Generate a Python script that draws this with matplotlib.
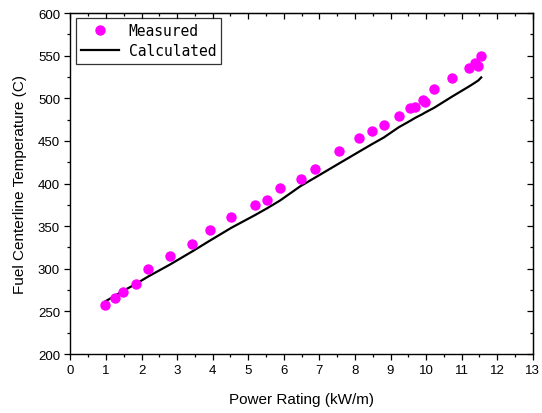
import numpy as np
import matplotlib.pyplot as plt
from matplotlib.ticker import MultipleLocator

plt.rcParams['font.family'] = ['Liberation Sans', 'DejaVu Sans']

# Measured fuel centerline temperatures
power_meas = [0.97, 1.26, 1.48, 1.83, 2.19, 2.80, 3.41, 3.92, 4.52, 5.19,
              5.53, 5.89, 6.47, 6.88, 7.55, 8.10, 8.49, 8.81, 9.23, 9.55,
              9.69, 9.90, 9.96, 10.23, 10.73, 11.21, 11.38, 11.47, 11.55]
temp_meas = [257.5, 265.7, 272.7, 282.0, 299.3, 314.6, 329.4, 345.4, 360.3, 374.8,
             381.0, 394.3, 405.3, 416.6, 437.8, 453.0, 461.2, 468.6, 479.5, 488.6,
             490.0, 498.3, 495.2, 510.5, 523.4, 535.5, 541.4, 537.5, 549.2]

# Model prediction at the same power levels
temp_calc = [261.5, 268.5, 274.0, 282.0, 291.0, 305.0, 320.0, 333.0, 348.0, 363.0,
             371.0, 380.0, 397.0, 407.0, 423.5, 437.0, 446.5, 454.0, 466.0, 473.5,
             477.0, 481.5, 483.0, 489.0, 502.0, 514.0, 518.5, 521.0, 524.5]

fig = plt.figure(figsize=(5.42, 4.14), dpi=100)
ax = fig.add_axes([0.130, 0.1425, 0.853, 0.8235])

ax.plot(power_meas, temp_meas, 'o', color='#ff00ff', ms=7.5, mec='none',
        label='Measured', zorder=3)
ax.plot(power_meas, temp_calc, '-', color='black', lw=1.6, label='Calculated')

ax.set_xlim(0, 13)
ax.set_ylim(200, 600)
ax.xaxis.set_major_locator(MultipleLocator(1))
ax.xaxis.set_minor_locator(MultipleLocator(0.5))
ax.yaxis.set_major_locator(MultipleLocator(50))
ax.yaxis.set_minor_locator(MultipleLocator(25))

ax.tick_params(which='both', direction='out', labelsize=9.5, width=0.9)
ax.tick_params(which='major', length=4)
ax.tick_params(which='minor', length=2.5)

# mirrored ticks on top and right, pointing inward
top = ax.secondary_xaxis('top')
top.xaxis.set_major_locator(MultipleLocator(1))
top.xaxis.set_minor_locator(MultipleLocator(0.5))
top.set_xticklabels([])
right = ax.secondary_yaxis('right')
right.yaxis.set_major_locator(MultipleLocator(50))
right.yaxis.set_minor_locator(MultipleLocator(25))
right.set_yticklabels([])
for twin in (top, right):
    twin.tick_params(which='both', direction='in', width=0.9)
    twin.tick_params(which='major', length=4)
    twin.tick_params(which='minor', length=2.5)

for s in ax.spines.values():
    s.set_linewidth(1.0)

ax.set_xlabel('Power Rating (kW/m)', fontsize=11, labelpad=11)
ax.set_ylabel('Fuel Centerline Temperature (C)', fontsize=11, labelpad=8)

leg = ax.legend(loc='upper left', bbox_to_anchor=(0.011, 0.985), borderaxespad=0,
                frameon=True, fancybox=False, edgecolor='black', borderpad=0.35,
                handlelength=2.6, handletextpad=0.7, labelspacing=0.35,
                prop={'family': 'DejaVu Sans Mono', 'size': 10.5})
leg.get_frame().set_linewidth(0.9)

fig.savefig('out.png', dpi=100)
